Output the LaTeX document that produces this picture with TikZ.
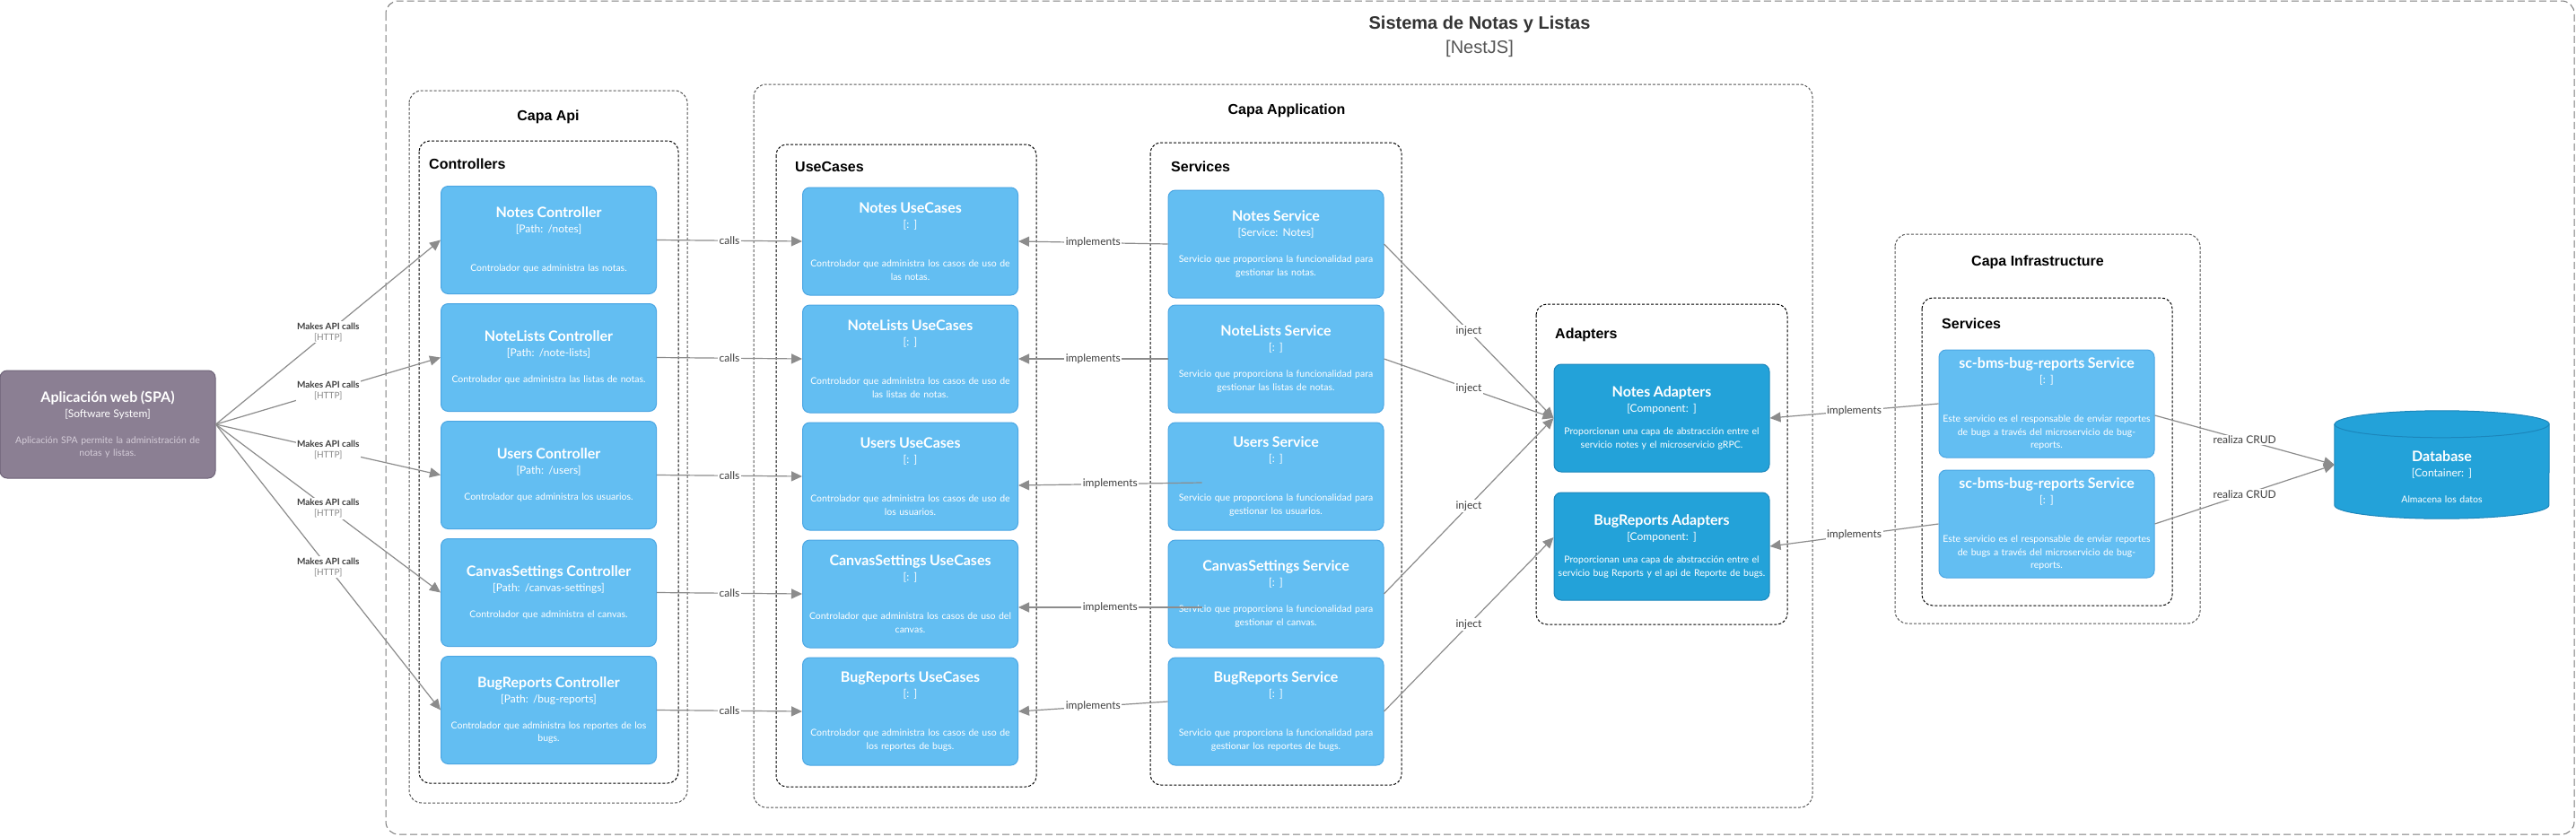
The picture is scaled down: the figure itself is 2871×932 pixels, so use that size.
\documentclass[tikz,border=0pt]{standalone}
\usepackage{fontspec}
\setmainfont{Liberation Sans}
\newfontfamily\elemfont{Lato}
\usetikzlibrary{positioning,arrows.meta}

\definecolor{compfill}{HTML}{63BEF2}
\definecolor{compdraw}{HTML}{4BA6E3}
\definecolor{adaptfill}{HTML}{23A2D9}
\definecolor{adaptdraw}{HTML}{1C86BB}
\definecolor{spafill}{HTML}{8B7F93}
\definecolor{spadraw}{HTML}{6E6378}
\definecolor{spadesc}{HTML}{D4CCD8}
\definecolor{relgray}{HTML}{8C8C8C}
\definecolor{lblgray}{HTML}{3F3F3F}
\definecolor{httpgray}{HTML}{8A8A8A}
\definecolor{sysgray}{HTML}{7A7A7A}
\definecolor{layergray}{HTML}{555555}
\definecolor{systext}{HTML}{333333}
\definecolor{systech}{HTML}{555555}

\newcommand{\elemtext}[4][14.5pt]{{\fontsize{16}{18}\selectfont\bfseries #2}\\[2.5pt]{\fontsize{12}{14}\selectfont #3}\\[#1]#4}

\begin{document}
\begin{tikzpicture}[x=1pt,y=-1pt,
	every node/.style={inner sep=0pt},
	comp/.style={draw=compdraw,fill=compfill,rounded corners=8pt,line width=1pt,
		minimum width=240pt,minimum height=120pt,text width=240pt,align=center,
		text=white,font=\elemfont\fontsize{10.5}{14.5}\selectfont},
	adapter/.style={comp,draw=adaptdraw,fill=adaptfill},
	spa/.style={comp,draw=spadraw,fill=spafill,text=spadesc},
	rel/.style={draw=relgray,line width=1.2pt,-{Triangle[length=12pt,width=11pt]}},
	lbl/.style={fill=white,inner sep=1.5pt,text=lblgray,font=\elemfont\fontsize{12}{14}\selectfont},
	apilbl/.style={lbl,align=center,font=\elemfont\fontsize{10}{12}\selectfont},
	sysbound/.style={draw=sysgray,line width=1pt,dash pattern=on 8pt off 4pt,rounded corners=14pt},
	layer/.style={draw=layergray,line width=1pt,dash pattern=on 3pt off 2pt,rounded corners=14pt},
	group/.style={draw=black,line width=1pt,dash pattern=on 3pt off 2pt,rounded corners=12pt},
	layerlbl/.style={anchor=base,font=\bfseries\fontsize{16}{18}\selectfont},
	grouplbl/.style={anchor=base west,font=\bfseries\fontsize{16}{18}\selectfont},
]
\useasboundingbox[fill=white] (0,0) rectangle (2871,932);

\draw[sysbound] (430,1) rectangle (2869,930);
\node[anchor=base,font=\bfseries\fontsize{20}{24}\selectfont,text=systext] (sysLbl) at (1649,32) {Sistema de Notas y Listas};
\node[anchor=base,font=\fontsize{20}{24}\selectfont,text=systech] (sysTech) at (1649,59) {[NestJS]};

\draw[layer] (456,101) rectangle (766,895);
\node[layerlbl] (capaApiLbl) at (611,134) {Capa Api};
\draw[group] (467,157) rectangle (756,873);
\node[grouplbl] (controllersLbl) at (478,188) {Controllers};

\draw[layer] (840,94) rectangle (2020,900);
\node[layerlbl] (capaAppLbl) at (1434,127) {Capa Application};
\draw[group] (865,161) rectangle (1155,877);
\node[grouplbl] (useCasesLbl) at (886,191) {UseCases};
\draw[group] (1282,159) rectangle (1562,875);
\node[grouplbl] (servicesLbl) at (1305,191) {Services};
\draw[group] (1712,339) rectangle (1992,696);
\node[grouplbl] (adaptersLbl) at (1733,377) {Adapters};

\draw[layer] (2112,261) rectangle (2452,695);
\node[layerlbl] (capaInfraLbl) at (2271,296) {Capa Infrastructure};
\draw[group] (2142,332) rectangle (2421,675);
\node[grouplbl] (infraServicesLbl) at (2164,366) {Services};

\node[spa] (spa) at (120,473) {\elemtext{\color{white}Aplicación web (SPA)}{\color{white}[Software System]}{Aplicación SPA permite la administración de\\notas y listas.}};

\node[comp] (notesCtl) at (611.5,267.5) {\elemtext{Notes Controller}{[Path: /notes]}{\mbox{}\\Controlador que administra las notas.}};
\node[comp,below=10pt of notesCtl] (noteListsCtl) {\elemtext{NoteLists Controller}{[Path: /note-lists]}{Controlador que administra las listas de notas.}};
\node[comp,below=10pt of noteListsCtl] (usersCtl) {\elemtext{Users Controller}{[Path: /users]}{Controlador que administra los usuarios.}};
\node[comp,below=10pt of usersCtl] (canvasCtl) {\elemtext{CanvasSettings Controller}{[Path: /canvas-settings]}{Controlador que administra el canvas.}};
\node[comp,below=10pt of canvasCtl] (bugCtl) {\elemtext{BugReports Controller}{[Path: /bug-reports]}{Controlador que administra los reportes de los\\bugs.}};

\node[comp] (notesUC) at (1014.5,269) {\elemtext[28.5pt]{Notes UseCases}{[: ]}{Controlador que administra los casos de uso de\\las notas.}};
\node[comp,below=10pt of notesUC] (noteListsUC) {\elemtext[28.5pt]{NoteLists UseCases}{[: ]}{Controlador que administra los casos de uso de\\las listas de notas.}};
\node[comp,below=10pt of noteListsUC] (usersUC) {\elemtext[28.5pt]{Users UseCases}{[: ]}{Controlador que administra los casos de uso de\\los usuarios.}};
\node[comp,below=10pt of usersUC] (canvasUC) {\elemtext[28.5pt]{CanvasSettings UseCases}{[: ]}{Controlador que administra los casos de uso del\\canvas.}};
\node[comp,below=10pt of canvasUC] (bugUC) {\elemtext[28.5pt]{BugReports UseCases}{[: ]}{Controlador que administra los casos de uso de\\los reportes de bugs.}};

\node[comp] (notesSvc) at (1422,272) {\elemtext{Notes Service}{[Service: Notes]}{Servicio que proporciona la funcionalidad para\\gestionar las notas.}};
\node[comp,below=7pt of notesSvc] (noteListsSvc) {\elemtext{NoteLists Service}{[: ]}{Servicio que proporciona la funcionalidad para\\gestionar las listas de notas.}};
\node[comp,below=10pt of noteListsSvc] (usersSvc) {\elemtext[28.5pt]{Users Service}{[: ]}{Servicio que proporciona la funcionalidad para\\gestionar los usuarios.}};
\node[comp,below=10pt of usersSvc] (canvasSvc) {\elemtext{CanvasSettings Service}{[: ]}{Servicio que proporciona la funcionalidad para\\gestionar el canvas.}};
\node[comp,below=10pt of canvasSvc] (bugSvc) {\elemtext[28.5pt]{BugReports Service}{[: ]}{Servicio que proporciona la funcionalidad para\\gestionar los reportes de bugs.}};

\node[adapter] (notesAd) at (1852,466) {\elemtext[10.5pt]{Notes Adapters}{[Component: ]}{Proporcionan una capa de abstracción entre el\\servicio notes y el microservicio gRPC.}};
\node[adapter,below=22pt of notesAd] (bugAd) {\elemtext[10.5pt]{BugReports Adapters}{[Component: ]}{Proporcionan una capa de abstracción entre el\\servicio bug Reports y el api de Reporte de bugs.}};

\node[comp] (bmsSvcA) at (2281,450) {\elemtext[28.5pt]{sc-bms-bug-reports Service}{[: ]}{Este servicio es el responsable de enviar reportes\\de bugs a través del microservicio de bug-\\reports.}};
\node[comp,below=13pt of bmsSvcA] (bmsSvcB) {\elemtext[28.5pt]{sc-bms-bug-reports Service}{[: ]}{Este servicio es el responsable de enviar reportes\\de bugs a través del microservicio de bug-\\reports.}};

\node[minimum width=239pt,minimum height=120pt] (db) at (2721.5,518) {};
\draw[draw=adaptdraw,fill=adaptfill,line width=1pt] ([yshift=-15pt]db.north west) -- ([yshift=15pt]db.south west)
	arc[start angle=180,end angle=360,x radius=119.5pt,y radius=15pt] -- ([yshift=-15pt]db.north east)
	arc[start angle=0,end angle=180,x radius=119.5pt,y radius=15pt] -- cycle;
\draw[draw=adaptdraw,line width=1pt] ([yshift=-15pt]db.north west) arc[start angle=180,end angle=360,x radius=119.5pt,y radius=15pt];
\node[text=white,text width=239pt,align=center,font=\elemfont\fontsize{10.5}{14.5}\selectfont] (dbTxt) at ([yshift=-14pt]db.center) {\elemtext{Database}{[Container: ]}{Almacena los datos}};

\draw[rel] (spa.east) -- node[apilbl]{\textbf{Makes API calls}\\{\color{httpgray}[HTTP]}} (notesCtl.west);
\draw[rel] (spa.east) -- node[apilbl]{\textbf{Makes API calls}\\{\color{httpgray}[HTTP]}} (noteListsCtl.west);
\draw[rel] (spa.east) -- node[apilbl]{\textbf{Makes API calls}\\{\color{httpgray}[HTTP]}} (usersCtl.west);
\draw[rel] (spa.east) -- node[apilbl]{\textbf{Makes API calls}\\{\color{httpgray}[HTTP]}} (canvasCtl.west);
\draw[rel] (spa.east) -- node[apilbl]{\textbf{Makes API calls}\\{\color{httpgray}[HTTP]}} (bugCtl.west);

\draw[rel] (notesCtl.east) -- node[lbl]{calls} (notesUC.west);
\draw[rel] (noteListsCtl.east) -- node[lbl]{calls} (noteListsUC.west);
\draw[rel] (usersCtl.east) -- node[lbl]{calls} (usersUC.west);
\draw[rel] (canvasCtl.east) -- node[lbl]{calls} (canvasUC.west);
\draw[rel] (bugCtl.east) -- node[lbl]{calls} (bugUC.west);

\draw[rel] (notesSvc.west) -- node[lbl]{implements} (notesUC.east);
\draw[rel] (noteListsSvc.west) -- node[lbl]{implements} (noteListsUC.east);
\draw[rel] ([shift={(38pt,-7pt)}]usersSvc.west) -- node[lbl]{implements} ([yshift=-10pt]usersUC.east);
\draw[rel] ([shift={(38pt,-15pt)}]canvasSvc.west) -- node[lbl]{implements} ([yshift=-15pt]canvasUC.east);
\draw[rel] ([yshift=11pt]bugSvc.west) -- node[lbl]{implements} (bugUC.east);

\draw[rel] (notesSvc.east) -- node[lbl]{inject} (notesAd.west);
\draw[rel] (noteListsSvc.east) -- node[lbl]{inject} (notesAd.west);
\draw[rel] (canvasSvc.east) -- node[lbl]{inject} (notesAd.west);
\draw[rel] (bugSvc.east) -- node[lbl]{inject} ([yshift=10pt]bugAd.west);

\draw[rel] (bmsSvcA.west) -- node[lbl]{implements} (notesAd.east);
\draw[rel] (bmsSvcB.west) -- node[lbl]{implements} (bugAd.east);

\draw[rel] ([yshift=-13pt]bmsSvcA.east) -- node[lbl]{realiza CRUD} (db.west);
\draw[rel] (bmsSvcB.east) -- node[lbl]{realiza CRUD} (db.west);
\end{tikzpicture}
\end{document}
